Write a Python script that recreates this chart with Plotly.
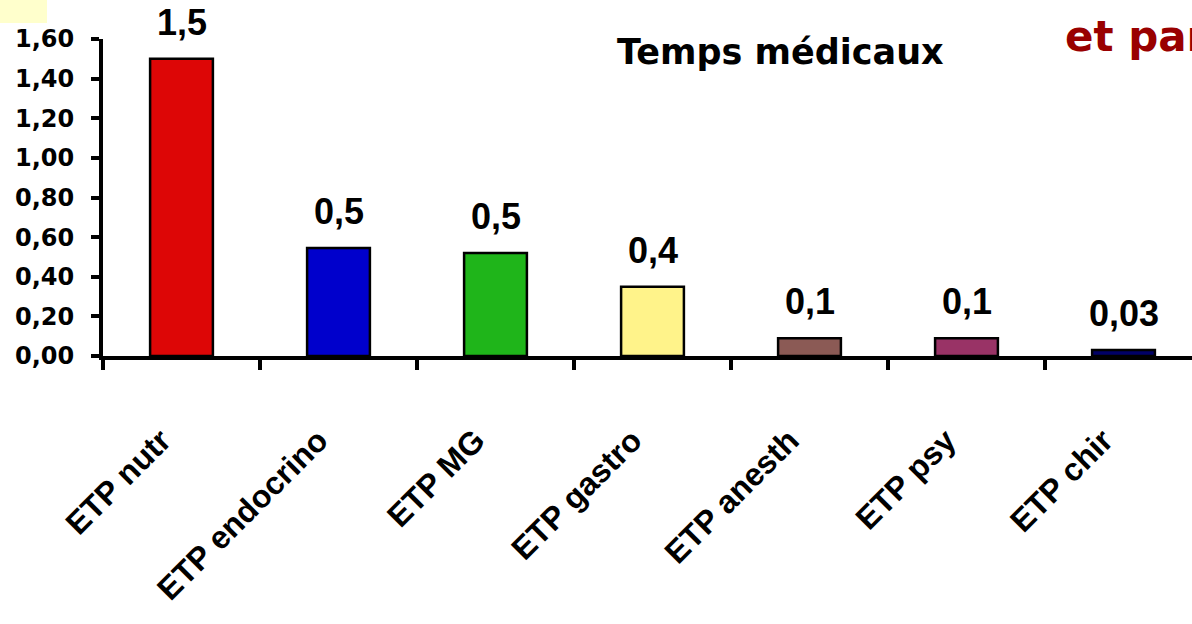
import plotly.graph_objects as go

categories = ["ETP nutr", "ETP endocrino", "ETP MG", "ETP gastro", "ETP anesth", "ETP psy", "ETP chir"]
values = [1.5, 0.545, 0.52, 0.35, 0.09, 0.09, 0.03]
value_labels = ["1,5", "0,5", "0,5", "0,4", "0,1", "0,1", "0,03"]
bar_colors = ["#DD0606", "#0000CC", "#1FB51A", "#FFF38A", "#8B5A55", "#993366", "#000066"]
y_ticks = [0, 0.2, 0.4, 0.6, 0.8, 1.0, 1.2, 1.4, 1.6]

W, H = 1192, 624
ML, MR, MT, MB = 103, 0, 39, 268
cat_px = 157.0
xmax = -0.5 + (W - ML - MR) / cat_px
PW, PH = W - ML - MR, H - MT - MB


def px_x(px):
    return (px - ML) / PW


def px_y(py_from_top):
    return (H - py_from_top - MB) / PH


fig = go.Figure()
fig.add_trace(go.Bar(
    x=categories, y=values,
    marker=dict(color=bar_colors, line=dict(color="black", width=2.5)),
    width=0.4,
    hoverinfo="skip",
))

for c, v, t in zip(categories, values, value_labels):
    fig.add_annotation(
        x=c, y=v, xref="x", yref="y", text=t, showarrow=False,
        yanchor="bottom", yshift=14,
        font=dict(family="Liberation Sans", size=36, color="black", weight="bold"),
    )

fig.add_annotation(
    x=px_x(780), y=px_y(52), xref="paper", yref="paper", text="<b>Temps médicaux</b>",
    showarrow=False, xanchor="center", yanchor="middle",
    font=dict(family="DejaVu Sans", size=35, color="black"),
)
fig.add_annotation(
    x=px_x(1063), y=px_y(36), xref="paper", yref="paper", text="<b>et par</b>",
    showarrow=False, xanchor="left", yanchor="middle",
    font=dict(family="DejaVu Sans", size=42, color="#990000"),
)

fig.add_shape(type="rect", xref="paper", yref="paper",
              x0=px_x(0), x1=px_x(47), y0=px_y(23), y1=px_y(0),
              fillcolor="#FFFFCC", line=dict(width=0), layer="below")

fig.update_layout(
    width=W, height=H,
    margin=dict(l=ML, r=MR, t=MT, b=MB, pad=0),
    paper_bgcolor="white", plot_bgcolor="white",
    showlegend=False,
    separators=", ",
    xaxis=dict(
        type="category", range=[-0.5, xmax],
        showline=True, linecolor="black", linewidth=4,
        ticks="outside", ticklen=10, tickwidth=4, tickcolor="black",
        tickson="boundaries",
        tickangle=-45,
        ticklabelstandoff=49, ticklabelshift=-20,
        tickfont=dict(family="Liberation Sans", size=32, color="black", weight="bold"),
        showgrid=False, zeroline=False,
    ),
    yaxis=dict(
        range=[0, 1.6], tickvals=y_ticks, tickformat=".2f",
        showline=True, linecolor="black", linewidth=4,
        ticks="outside", ticklen=8, tickwidth=4, tickcolor="black",
        ticklabelstandoff=12,
        tickfont=dict(family="DejaVu Sans", size=24, color="black", weight="bold"),
        showgrid=False, zeroline=False,
    ),
)

fig.write_html(
    "out.html",
    config={"displayModeBar": False},
    post_script="document.body.style.margin='0';document.body.style.overflow='hidden';",
)
